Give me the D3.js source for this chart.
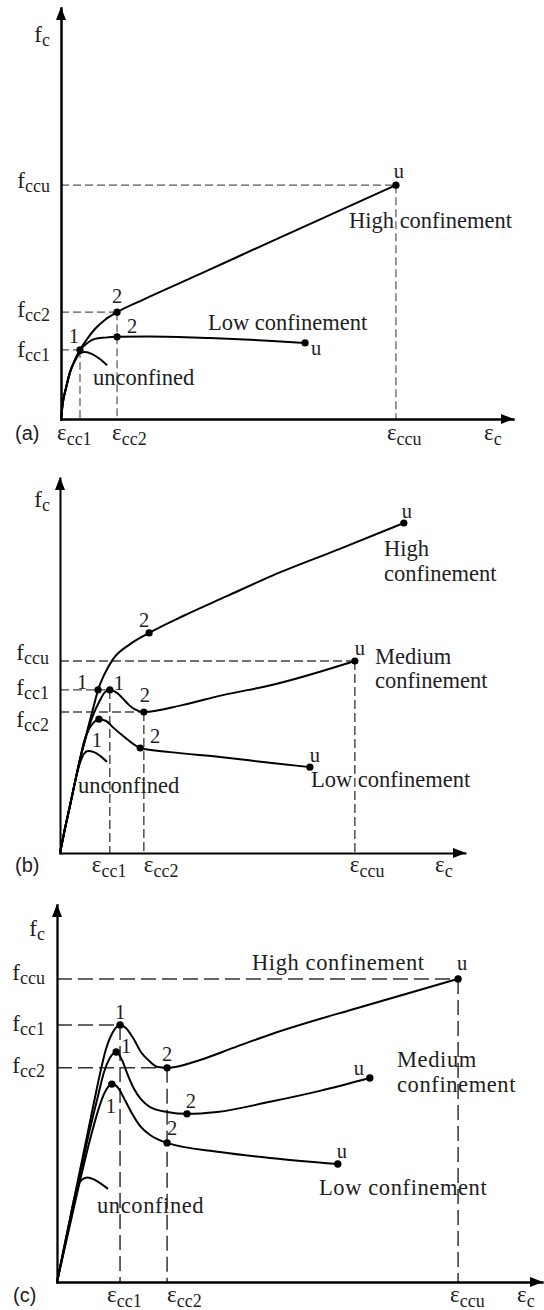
<!DOCTYPE html>
<html>
<head>
<meta charset="utf-8">
<script src="https://cdn.jsdelivr.net/npm/d3@7"></script>
<style>
  html, body { margin: 0; padding: 0; background: #fff; }
  svg { display: block; }
  text { font-family: "Liberation Serif", "Times New Roman", serif; fill: #1e1e1e; }
  .tag { font-family: "Liberation Sans", Arial, sans-serif; }
</style>
</head>
<body>
<svg id="chart" width="544" height="1310"></svg>
<script>
// Stress-strain curves of confined concrete, relative units (0-100 on each axis).
// Each curve is a list of [strain, stress] pairs.

// (a) high / low confinement
const aHigh = [[0,0],[0.4,3.9],[1.1,7.5],[2.0,11.4],[3.1,14.4],[4.2,16.8],[5.8,19.5],[7.5,21.9],[9.7,24.1],[12.4,26.0],[18.1,29.0],[30.8,35.3],[46.7,43.3],[74.1,56.9]];
const aLow = [[0,0],[0.4,3.9],[1.1,7.5],[2.0,11.4],[3.1,14.4],[4.2,16.8],[5.5,18.2],[7.5,19.5],[9.7,19.8],[12.4,20.0],[19.7,20.1],[33.0,19.7],[46.7,19.0],[54.0,18.5]];
const aUnconf = [[0,0],[0.4,3.9],[1.1,7.5],[2.0,11.4],[3.1,14.2],[4.2,16.0],[5.3,16.3],[6.9,15.8],[8.6,14.6],[10.2,13.1]];
const aMarks = [[4.2,16.8],[12.4,26.0],[74.1,56.9],[12.4,20.0],[54.0,18.5]];
const aMarkNames = ["1","2","u","2","u"];
const aStrainRefs = [4.2, 12.4, 74.1];
const aStressRefs = [16.8, 26.0, 56.9];

// (b) high / medium / low confinement
const bHigh = [[0,0],[1.2,6.4],[2.5,12.8],[3.7,18.9],[4.9,24.8],[6.2,30.3],[7.4,35.4],[8.6,40.3],[9.4,43.5],[10.9,47.5],[13.1,51.7],[17.3,55.7],[22.0,58.7],[30.4,63.2],[41.2,68.5],[52.3,73.9],[69.1,81.1],[84.9,88.0]];
const bMed = [[0,0],[1.2,6.4],[2.5,12.8],[3.7,18.9],[4.9,24.8],[6.4,30.9],[7.9,36.0],[9.9,40.8],[11.1,42.9],[12.3,43.5],[14.1,42.7],[15.6,41.1],[17.0,39.5],[18.5,38.3],[20.7,37.6],[30.4,39.5],[40.2,42.1],[52.3,44.8],[72.8,51.2]];
const bLow = [[0,0],[1.2,6.4],[2.5,12.8],[3.7,18.9],[4.9,24.8],[5.9,29.6],[7.2,33.1],[8.4,34.9],[9.6,35.7],[11.4,35.2],[13.3,33.3],[15.6,31.2],[17.8,29.3],[19.8,28.0],[27.2,26.9],[39.5,25.6],[52.3,24.0],[61.7,22.9]];
const bUnconf = [[0,0],[1.2,6.4],[2.5,12.8],[3.7,18.9],[4.7,23.2],[5.9,26.4],[6.9,27.2],[8.4,26.9],[9.9,25.9],[11.6,24.3]];
const bMarks = [[9.4,43.5],[12.3,43.5],[20.7,37.6],[72.8,51.2],[22.0,58.7],[84.9,88.0],[9.6,35.7],[19.8,28.0],[61.7,22.9]];
const bMarkNames = ["1","1","2","u","2","u","1","2","u"];
const bStrainRefs = [12.3, 20.7, 72.8];
const bStressRefs = [43.5, 37.6, 51.2];

// (c) high / medium / low confinement with softening branch
const cHigh = [[0,0],[3.9,24.4],[6.4,40.0],[8.0,50.0],[9.1,56.6],[10.1,61.8],[11.3,65.8],[13.0,68.2],[14.2,67.4],[15.7,64.7],[17.3,61.0],[19.2,58.4],[20.8,57.0],[22.7,56.8],[29.5,58.9],[36.3,62.1],[44.3,65.8],[62.5,72.9],[82.7,80.4]];
const cMed = [[0,0],[4.1,24.4],[6.6,39.5],[8.5,49.6],[9.7,55.7],[10.9,59.4],[12.2,61.0],[13.4,58.9],[14.6,54.9],[15.9,51.2],[17.3,48.5],[19.2,46.4],[22.7,45.1],[26.8,44.6],[33.0,45.1],[43.9,47.8],[54.2,50.7],[64.5,54.1]];
const cLow = [[0,0],[4.3,24.4],[6.8,37.7],[8.5,45.6],[9.7,49.9],[10.5,51.7],[11.3,52.5],[12.6,51.5],[14.0,48.3],[15.5,44.6],[17.1,41.4],[19.2,39.0],[22.7,36.9],[33.6,34.5],[43.9,32.9],[57.9,31.3]];
const cUnconf = [[0,0],[2.7,16.8],[3.5,21.8],[4.3,25.5],[5.2,27.2],[6.3,27.7],[7.6,27.2],[8.8,26.3],[10.5,24.7]];
const cMarks = [[13.0,68.2],[22.7,56.8],[82.7,80.4],[12.2,61.0],[26.8,44.6],[64.5,54.1],[11.3,52.5],[22.7,36.9],[57.9,31.3]];
const cMarkNames = ["1","2","u","1","2","u","1","2","u"];
const cStrainRefs = [13.0, 22.7, 82.7];
const cStressRefs = [68.2, 56.8, 80.4];

// tick label subscripts (same order as the reference values)
const refSubs = ["cc1", "cc2", "ccu"];
const panelTags = ["(a)", "(b)", "(c)"];

const svg = d3.select("#chart");

function subLabel(g, x, y, base, sub, o) {
  const t = g.append("text")
    .attr("x", x).attr("y", y)
    .attr("text-anchor", o.anchor || "start");
  t.append("tspan").attr("font-size", o.size).text(base);
  t.append("tspan").attr("font-size", o.subSize).attr("dy", o.subDy).text(sub);
  return t;
}

function drawPanel(p) {
  const g = svg.append("g");
  const x = d3.scaleLinear().domain([0, 100]).range([p.frame.left, p.frame.right]);
  const y = d3.scaleLinear().domain([0, 100]).range([p.frame.bottom, p.frame.top]);

  // dashed reference lines to the characteristic points
  p.strainRefs.forEach((e, i) => {
    const f = p.stressRefs[i];
    g.append("line")
      .attr("x1", x(0)).attr("y1", y(f)).attr("x2", x(e)).attr("y2", y(f))
      .attr("stroke", p.dashColor).attr("stroke-width", p.dashWidth)
      .attr("stroke-dasharray", p.dash);
    g.append("line")
      .attr("x1", x(e)).attr("y1", y(f)).attr("x2", x(e)).attr("y2", y(0))
      .attr("stroke", p.dashColor).attr("stroke-width", p.dashWidth)
      .attr("stroke-dasharray", p.dash);
  });

  // axes (no ticks) with arrow heads
  g.append("g").attr("transform", `translate(0,${y(0)})`)
    .call(d3.axisBottom(x).tickValues([]).tickSizeOuter(0));
  g.append("g").attr("transform", `translate(${x(0)},0)`)
    .call(d3.axisLeft(y).tickValues([]).tickSizeOuter(0));
  g.selectAll(".domain").attr("stroke", "#000").attr("stroke-width", p.axisWidth)
    .attr("stroke-linecap", "square");
  const ah = 12, aw = 5;
  g.append("path")
    .attr("d", `M${x(0)},${y(100) - 1}L${x(0) - aw},${y(100) + ah}L${x(0) + aw},${y(100) + ah}Z`)
    .attr("fill", "#000");
  g.append("path")
    .attr("d", `M${x(100) + 1},${y(0)}L${x(100) - ah},${y(0) - aw}L${x(100) - ah},${y(0) + aw}Z`)
    .attr("fill", "#000");

  // curves
  const line = d3.line().x(d => x(d[0])).y(d => y(d[1])).curve(d3.curveMonotoneX);
  p.curves.forEach(c => {
    g.append("path").attr("d", line(c))
      .attr("fill", "none").attr("stroke", "#000")
      .attr("stroke-width", p.curveWidth).attr("stroke-linejoin", "round");
  });

  // characteristic points and their labels
  g.selectAll("circle.mk").data(p.marks).join("circle")
    .attr("class", "mk")
    .attr("cx", d => x(d[0])).attr("cy", d => y(d[1])).attr("r", p.markR)
    .attr("fill", "#000");
  p.marks.forEach((d, i) => {
    const [dx, dy] = p.markOffsets[i];
    g.append("text")
      .attr("x", x(d[0]) + dx).attr("y", y(d[1]) + dy)
      .attr("text-anchor", "middle").attr("font-size", 20.5)
      .text(p.markNames[i]);
  });

  // curve names
  p.names.forEach(n => {
    n.lines.forEach((s, k) => {
      g.append("text")
        .attr("x", n.x).attr("y", n.y + k * n.lh)
        .attr("font-size", 22.5).attr("letter-spacing", p.spacing)
        .text(s);
    });
  });

  // axis titles and reference labels
  subLabel(g, p.fTitle.x, p.fTitle.y, "f", "c", {anchor: "end", size: 23, subSize: 18, subDy: 4});
  p.stressRefs.forEach((f, i) => {
    subLabel(g, p.fRight, y(f) + p.fDy[i], "f", refSubs[i], {anchor: "end", size: 23, subSize: 18, subDy: 4});
  });
  p.strainRefs.forEach((e, i) => {
    subLabel(g, x(e) + p.epsDx[i], p.epsY, "\u03b5", refSubs[i], {size: 23, subSize: 18, subDy: 5});
  });
  subLabel(g, p.epsCx, p.epsY, "\u03b5", "c", {size: 23, subSize: 18, subDy: 5});

  g.append("text").attr("class", "tag")
    .attr("x", p.tagX).attr("y", p.epsY)
    .attr("font-size", 20).text(p.tag);
}

drawPanel({
  frame: {left: 61, right: 513, bottom: 419, top: 8},
  axisWidth: 2.5, curveWidth: 2, markR: 3.6,
  dash: "8,4", dashWidth: 1.2, dashColor: "#555",
  curves: [aHigh, aLow, aUnconf],
  marks: aMarks, markNames: aMarkNames,
  markOffsets: [[-6,-7],[0,-9],[3,-7],[15,-4],[11,12]],
  strainRefs: aStrainRefs, stressRefs: aStressRefs,
  fTitle: {x: 50, y: 42}, fRight: 50, fDy: [7,5,3],
  epsDx: [-23,-5,-9], epsY: 440, epsCx: 484,
  tag: panelTags[0], tagX: 15, spacing: 0,
  names: [
    {lines: ["High confinement"], x: 349, y: 228, lh: 0},
    {lines: ["Low confinement"], x: 208, y: 330, lh: 0},
    {lines: ["unconfined"], x: 93, y: 385, lh: 0}
  ]
});

drawPanel({
  frame: {left: 60, right: 465, bottom: 853, top: 478},
  axisWidth: 2, curveWidth: 2, markR: 3.6,
  dash: "9,4", dashWidth: 1.4, dashColor: "#444",
  curves: [bHigh, bMed, bLow, bUnconf],
  marks: bMarks, markNames: bMarkNames,
  markOffsets: [[-16,-1],[9,0],[1,-10],[5,-6],[-5,-6],[3,-5],[-2,28],[15,-5],[5,-5]],
  strainRefs: bStrainRefs, stressRefs: bStressRefs,
  fTitle: {x: 50, y: 507}, fRight: 49, fDy: [5,15,-1],
  epsDx: [-18,0,-5], epsY: 872, epsCx: 435,
  tag: panelTags[1], tagX: 15, spacing: 0,
  names: [
    {lines: ["High", "confinement"], x: 384, y: 556, lh: 25},
    {lines: ["Medium", "confinement"], x: 375, y: 664, lh: 24},
    {lines: ["Low confinement"], x: 311, y: 787, lh: 0},
    {lines: ["unconfined"], x: 78, y: 793, lh: 0}
  ]
});

drawPanel({
  frame: {left: 57, right: 542, bottom: 1282, top: 905},
  axisWidth: 2.3, curveWidth: 2, markR: 3.7,
  dash: "15,6", dashWidth: 1.5, dashColor: "#333",
  curves: [cHigh, cMed, cLow, cUnconf],
  marks: cMarks, markNames: cMarkNames,
  markOffsets: [[0,-6],[0,-7],[4,-9],[10,1],[4,-6],[-11,-3],[-1,29],[5,-8],[4,-6]],
  strainRefs: cStrainRefs, stressRefs: cStressRefs,
  fTitle: {x: 45, y: 936}, fRight: 45, fDy: [6,5,1],
  epsDx: [-13,0,-8], epsY: 1302, epsCx: 517,
  tag: panelTags[2], tagX: 13, spacing: 0.6,
  names: [
    {lines: ["High confinement"], x: 252, y: 970, lh: 0},
    {lines: ["Medium", "confinement"], x: 397, y: 1067, lh: 25},
    {lines: ["Low confinement"], x: 319, y: 1195, lh: 0},
    {lines: ["unconfined"], x: 97, y: 1213, lh: 0}
  ]
});
</script>
</body>
</html>
